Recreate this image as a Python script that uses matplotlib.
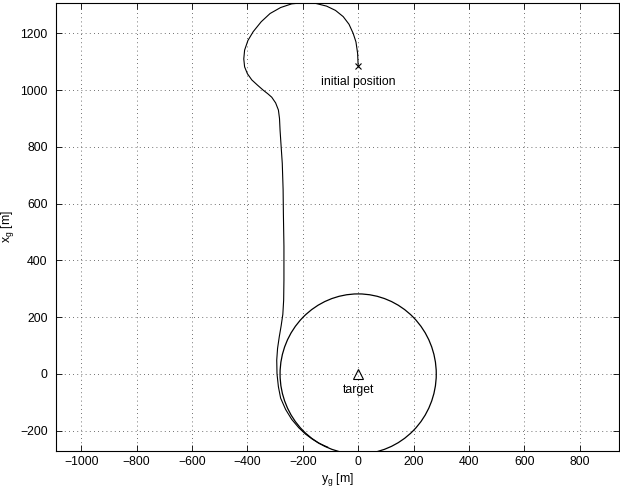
import matplotlib
matplotlib.use('Agg')
import matplotlib.pyplot as plt
from matplotlib.patches import Circle

plt.rcParams['font.family'] = ['Liberation Sans', 'DejaVu Sans']

# trajectory (y_g, x_g) in metres
traj_y = [0, -2, -8, -18, -33, -54, -82, -114, -155, -198, -240, -280, -318, -350,
          -379, -398, -410, -413, -410, -400, -384, -364, -343, -326, -312, -298,
          -288, -284, -282, -278, -274, -271, -270, -268, -268, -269, -272, -278,
          -285, -291, -294, -293, -288, -280, -262, -240, -214, -190, -165, -140, -110]
traj_x = [1086, 1130, 1170, 1200, 1232, 1259, 1281, 1296, 1306, 1308, 1304, 1291, 1270, 1241,
          1206, 1175, 1141, 1110, 1082, 1058, 1036, 1018, 1000, 987, 975, 955,
          930, 900, 859, 800, 742, 650, 566, 450, 331, 260, 210, 170,
          130, 90, 49, 0, -45, -85, -125, -160, -190, -212, -230, -245, -258]

# loiter circle around the target
loiter_center = (0, 0)
loiter_radius = 282

start = (0, 1086)
target = (0, 0)

xticks = list(range(-1000, 801, 200))
yticks = list(range(-200, 1201, 200))

fig = plt.figure(figsize=(6.2, 4.91), dpi=100)
ax = fig.add_axes([56/620, 40/491, (618.5-56)/620, 448/491])

ax.plot(traj_y, traj_x, color='k', lw=0.8)
ax.add_patch(Circle(loiter_center, loiter_radius, fill=False, ec='k', lw=0.9))
ax.plot(start[0], start[1], 'x', color='k', ms=4, mew=0.8)
ax.plot(target[0], target[1], '^', mfc='none', mec='k', ms=7, mew=0.8)
ax.text(start[0], 1030, 'initial position', ha='center', va='center', fontsize=8.8)
ax.text(target[0], -56, 'target', ha='center', va='center', fontsize=8.8)

ax.set_xlim(-1091, 940)
ax.set_ylim(-271.5, 1307)
ax.set_xticks(xticks)
ax.set_yticks(yticks)
ax.tick_params(direction='in', top=True, right=True, labelsize=8.8, length=4, width=0.6)
ax.tick_params(axis='y', pad=6)
ax.grid(True, linestyle=(0, (1, 4)), color='k', lw=0.6, alpha=0.75)
for s in ax.spines.values():
    s.set_linewidth(0.8)

ax.set_xlabel(r'$\mathregular{y_g}$ [m]', fontsize=8.8, labelpad=2)
ax.set_ylabel(r'$\mathregular{x_g}$ [m]', fontsize=8.8, labelpad=3)

fig.savefig('out.png', dpi=100)
